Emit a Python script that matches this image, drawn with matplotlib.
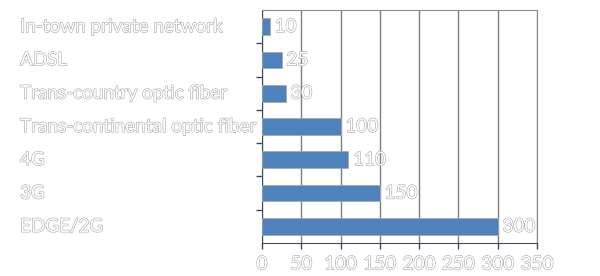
import matplotlib
matplotlib.use("Agg")
import matplotlib.pyplot as plt
import matplotlib.patheffects as pe
from matplotlib.transforms import blended_transform_factory

categories = ["In-town private network", "ADSL", "Trans-country optic fiber",
              "Trans-continental optic fiber", "4G", "3G", "EDGE/2G"]
latency = [10, 25, 30, 100, 110, 150, 300]
xticks = [0, 50, 100, 150, 200, 250, 300, 350]

plt.rcParams['font.family'] = ['Lato', 'DejaVu Sans']
hollow = [pe.withStroke(linewidth=0.8, foreground='#a6a6a6')]

fig = plt.figure(figsize=(6, 2.76), dpi=100)
ax = fig.add_axes([262/600, 33/276, 275/600, 233/276])

ypos = list(range(len(categories)))[::-1]
ax.barh(ypos, latency, height=0.5, color='#4f81bd', edgecolor='#a9a9a9',
        linewidth=0.6, zorder=3)

ax.set_xlim(0, 350)
ax.set_ylim(-0.5, len(categories) - 0.5)
ax.set_xticks(xticks)
ax.set_xticklabels([str(t) for t in xticks])
ax.set_yticks([y + 0.5 for y in range(len(categories) - 1)])
ax.set_yticklabels([])
ax.grid(axis='x', color='#7f7f7f', linewidth=1, zorder=0)
ax.tick_params(axis='both', direction='out', length=4, width=1, color='#404a5a')
ax.tick_params(axis='x', labelsize=13.6, labelcolor='white', pad=5)
for lab in ax.get_xticklabels():
    lab.set_path_effects(hollow)

for side in ['left', 'bottom']:
    ax.spines[side].set_color('#404a5a')
for side in ['top', 'right']:
    ax.spines[side].set_color('#8c8c8c')

trans = blended_transform_factory(fig.transFigure, ax.transData)
for y, name, v in zip(ypos, categories, latency):
    ax.text(20/600, y, name, transform=trans, ha='left', va='center',
            fontsize=13.6, color='white', path_effects=hollow)
    ax.text(v + 6, y, str(v), ha='left', va='center', fontsize=13.6,
            color='white', path_effects=hollow, zorder=4)

fig.savefig("out.png", dpi=100)
